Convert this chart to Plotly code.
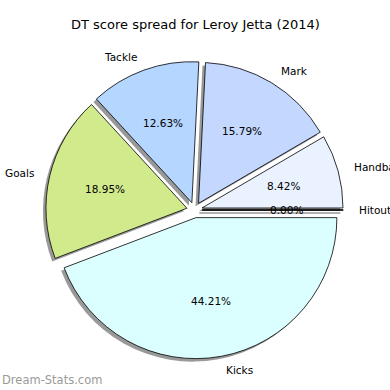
import math
import plotly.graph_objects as go

labels = ["Hitout", "Handball", "Mark", "Tackle", "Goals", "Kicks"]
values = [0.0, 8.42, 15.79, 12.63, 18.95, 44.21]
colors = ["#e4e4ff", "#eaf1ff", "#c4d8ff", "#b4d6ff", "#d0ea8c", "#dbffff"]
title = "DT score spread for Leroy Jetta (2014)"

W = H = 390
CX, CY = 194.5, 210.0     # pie centre (pixels)
R = 141.0                 # radius in pixels
PULL = 0.055              # explode fraction
SH = 3.0                  # shadow offset in pixels

half = R * (1 + PULL)


def dom(dx=0.0, dy=0.0):
    x0 = (CX + dx - half) / W
    x1 = (CX + dx + half) / W
    y0 = (H - (CY + dy) - half) / H
    y1 = (H - (CY + dy) + half) / H
    return dict(x=[x0, x1], y=[y0, y1])


fig = go.Figure()
fig.add_trace(go.Pie(
    labels=labels, values=values, sort=False, direction="counterclockwise",
    rotation=90, pull=[PULL] * len(values), domain=dom(-SH, SH),
    marker=dict(colors=["rgba(70,70,70,0.55)"] * len(values), line=dict(width=0)),
    textinfo="none", hoverinfo="skip", showlegend=False,
))
fig.add_trace(go.Pie(
    labels=labels, values=values, sort=False, direction="counterclockwise",
    rotation=90, pull=[PULL] * len(values), domain=dom(),
    marker=dict(colors=colors, line=dict(color="black", width=0.8)),
    textinfo="none", showlegend=False,
))

annotations = []
shapes = []
total = sum(values)
start = 0.0
for lab, v in zip(labels, values):
    span = 360.0 * v / total
    mid = math.radians(start + span / 2)
    ox = CX + PULL * R * math.cos(mid)
    oy = CY - PULL * R * math.sin(mid)
    px = ox + 0.6 * R * math.cos(mid)
    py = oy - 0.6 * R * math.sin(mid)
    annotations.append(dict(x=px / W, y=1 - py / H, xref="paper", yref="paper",
                            text=f"{v:.2f}%", showarrow=False,
                            font=dict(size=10.5, color="black", family="DejaVu Sans"),
                            xanchor="center", yanchor="middle"))
    lx = ox + 1.1 * R * math.cos(mid)
    ly = oy - 1.1 * R * math.sin(mid)
    annotations.append(dict(x=lx / W, y=1 - ly / H, xref="paper", yref="paper",
                            text=lab, showarrow=False,
                            font=dict(size=10.5, color="black", family="DejaVu Sans"),
                            xanchor="left" if math.cos(mid) >= 0 else "right",
                            yanchor="middle"))
    if v == 0:
        ex = ox + R * math.cos(mid)
        ey = oy - R * math.sin(mid)
        shapes.append(dict(type="line", xref="paper", yref="paper",
                           x0=(ox - SH) / W, y0=1 - (oy + SH) / H,
                           x1=(ex - SH) / W, y1=1 - (ey + SH) / H,
                           line=dict(color="rgba(70,70,70,0.55)", width=1.5)))
        shapes.append(dict(type="line", xref="paper", yref="paper",
                           x0=ox / W, y0=1 - oy / H, x1=ex / W, y1=1 - ey / H,
                           line=dict(color="black", width=1)))
    start += span

annotations.append(dict(x=0.5, y=1 - 25 / H, xref="paper", yref="paper", text=title,
                        showarrow=False, xanchor="center", yanchor="middle",
                        font=dict(size=13, color="black", family="DejaVu Sans")))
annotations.append(dict(x=0, y=1 - 380 / H, xref="paper", yref="paper",
                        text="Dream-Stats.com", showarrow=False, xanchor="left",
                        yanchor="middle",
                        font=dict(size=11.5, color="#9a9a9a", family="DejaVu Sans")))

fig.update_layout(width=W, height=H, margin=dict(l=0, r=0, t=0, b=0),
                  paper_bgcolor="white", plot_bgcolor="white",
                  annotations=annotations, shapes=shapes)
fig.write_html("out.html", config={"displayModeBar": False},
               post_script="document.body.style.margin='0';document.body.style.overflow='hidden';")
